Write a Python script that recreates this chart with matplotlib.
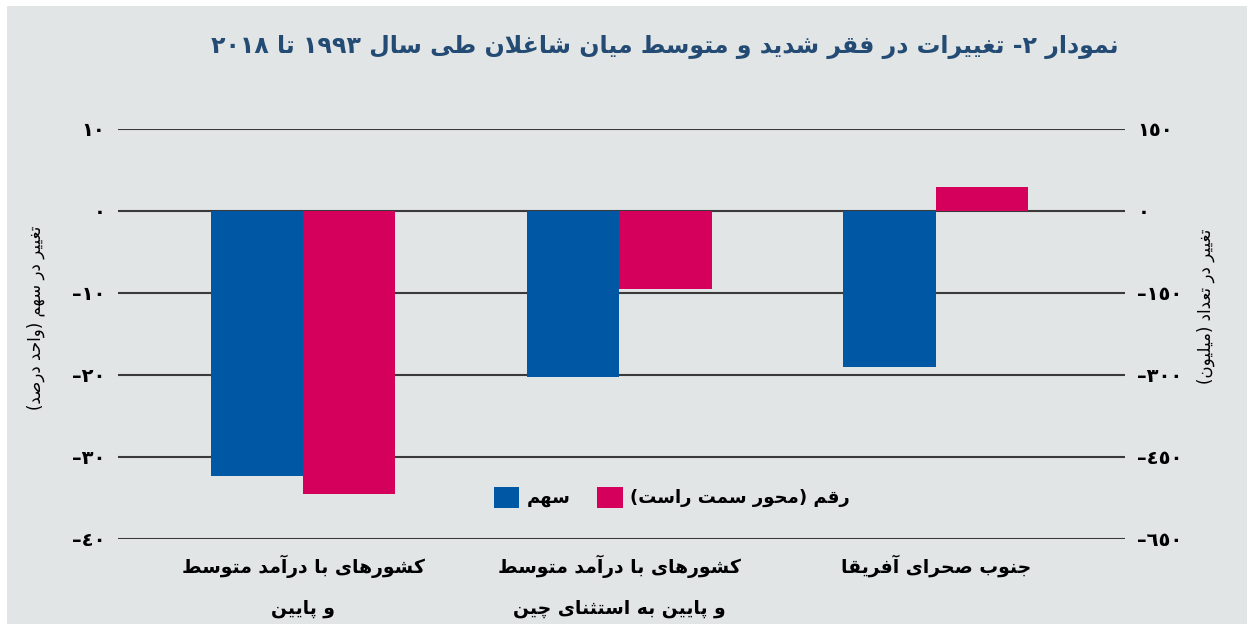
import re
import matplotlib
matplotlib.use("Agg")
import matplotlib.pyplot as plt
from matplotlib.patches import Rectangle
import numpy as np

plt.rcParams['font.family'] = ['DejaVu Sans']

# data
categories = ["کشورهای با درآمد متوسط\nو پایین",
              "کشورهای با درآمد متوسط\nو پایین به استثنای چین",
              "جنوب صحرای آفریقا"]
share = [-32.3, -20.2, -19.0]        # percentage points (left axis)
number = [-518, -143, 44]            # millions (right axis)
left_ticks = [10, 0, -10, -20, -30, -40]
left_labels = ["١٠", "٠", "–١٠", "–٢٠", "–٣٠", "–٤٠"]
right_ticks = [150, 0, -150, -300, -450, -600]
right_labels = ["١٥٠", "٠", "–١٥٠", "–٣٠٠", "–٤٥٠", "–٦٥٠"]
title = "نمودار ٢- تغییرات در فقر شدید و متوسط میان شاغلان طی سال ١٩٩٣ تا ٢٠١٨"
left_ylabel = "تغییر در سهم (واحد درصد)"
right_ylabel = "تغییر در تعداد (میلیون)"
legend_labels = ["سهم", "رقم (محور سمت راست)"]

# --- minimal arabic/persian shaping (isolated, final, initial, medial) ---
FORMS = {
    'ا': (0xFE8D, 0xFE8E), 'آ': (0xFE81, 0xFE82), 'د': (0xFEA9, 0xFEAA),
    'ذ': (0xFEAB, 0xFEAC), 'ر': (0xFEAD, 0xFEAE), 'ز': (0xFEAF, 0xFEB0),
    'ژ': (0xFB8A, 0xFB8B), 'و': (0xFEED, 0xFEEE),
    'ب': (0xFE8F, 0xFE90, 0xFE91, 0xFE92), 'پ': (0xFB56, 0xFB57, 0xFB58, 0xFB59),
    'ت': (0xFE95, 0xFE96, 0xFE97, 0xFE98), 'ث': (0xFE99, 0xFE9A, 0xFE9B, 0xFE9C),
    'ج': (0xFE9D, 0xFE9E, 0xFE9F, 0xFEA0), 'چ': (0xFB7A, 0xFB7B, 0xFB7C, 0xFB7D),
    'ح': (0xFEA1, 0xFEA2, 0xFEA3, 0xFEA4), 'خ': (0xFEA5, 0xFEA6, 0xFEA7, 0xFEA8),
    'س': (0xFEB1, 0xFEB2, 0xFEB3, 0xFEB4), 'ش': (0xFEB5, 0xFEB6, 0xFEB7, 0xFEB8),
    'ص': (0xFEB9, 0xFEBA, 0xFEBB, 0xFEBC), 'ض': (0xFEBD, 0xFEBE, 0xFEBF, 0xFEC0),
    'ط': (0xFEC1, 0xFEC2, 0xFEC3, 0xFEC4), 'ظ': (0xFEC5, 0xFEC6, 0xFEC7, 0xFEC8),
    'ع': (0xFEC9, 0xFECA, 0xFECB, 0xFECC), 'غ': (0xFECD, 0xFECE, 0xFECF, 0xFED0),
    'ف': (0xFED1, 0xFED2, 0xFED3, 0xFED4), 'ق': (0xFED5, 0xFED6, 0xFED7, 0xFED8),
    'ک': (0xFB8E, 0xFB8F, 0xFB90, 0xFB91), 'گ': (0xFB92, 0xFB93, 0xFB94, 0xFB95),
    'ل': (0xFEDD, 0xFEDE, 0xFEDF, 0xFEE0), 'م': (0xFEE1, 0xFEE2, 0xFEE3, 0xFEE4),
    'ن': (0xFEE5, 0xFEE6, 0xFEE7, 0xFEE8), 'ه': (0xFEE9, 0xFEEA, 0xFEEB, 0xFEEC),
    'ی': (0xFBFC, 0xFBFD, 0xFBFE, 0xFBFF), 'ئ': (0xFE89, 0xFE8A, 0xFE8B, 0xFE8C),
}
LAM_ALEF = {'ا': (0xFEFB, 0xFEFC), 'آ': (0xFEF5, 0xFEF6)}


def joins_next(c):
    return c in FORMS and len(FORMS[c]) == 4


def shape_line(s):
    out = []
    i = 0
    while i < len(s):
        c = s[i]
        prev = s[i - 1] if i > 0 else ''
        jp = joins_next(prev)
        if c == 'ل' and i + 1 < len(s) and s[i + 1] in LAM_ALEF:
            out.append(chr(LAM_ALEF[s[i + 1]][1 if jp else 0]))
            i += 2
            continue
        if c in FORMS:
            nxt = s[i + 1] if i + 1 < len(s) else ''
            f = FORMS[c]
            jn = len(f) == 4 and nxt in FORMS
            if jp and jn:
                g = f[3]
            elif jp:
                g = f[1]
            elif jn:
                g = f[2]
            else:
                g = f[0]
            out.append(chr(g))
        else:
            out.append(c)
        i += 1
    shaped = ''.join(out)
    # visual order: reverse everything except digit runs
    runs = re.findall(r'[0-9\u0660-\u0669]+|[^0-9\u0660-\u0669]+', shaped)
    mirror = str.maketrans('()', ')(')
    vis = []
    for r in reversed(runs):
        if re.match(r'[0-9\u0660-\u0669]', r):
            vis.append(r)
        else:
            vis.append(r[::-1].translate(mirror))
    return ''.join(vis)


def fa(s):
    return '\n'.join(shape_line(line) for line in s.split('\n'))


bg = '#e1e5e6'
blue = '#0057a3'
pink = '#d5005b'
title_col = '#234b73'

fig = plt.figure(figsize=(12.47, 6.24), dpi=100, facecolor='white')
fig.patches.append(Rectangle((7 / 1247, 0), 1, 1 - 6 / 624, transform=fig.transFigure,
                             facecolor=bg, edgecolor='none', zorder=-10))
ax = fig.add_axes([118 / 1247, 1 - 539 / 624, 1007 / 1247, 410 / 624])
ax.set_facecolor('none')
ax2 = ax.twinx()

x = np.arange(len(categories))
w = 0.292
b1 = ax.bar(x - w / 2, share, w, color=blue, zorder=3)
b2 = ax2.bar(x + w / 2, number, w, color=pink, zorder=3)

ax.set_xlim(-0.585, 2.598)
ax.set_ylim(-40, 10)
ax2.set_ylim(-600, 150)
ax.set_yticks(left_ticks, left_labels, fontsize=14, fontweight='bold')
ax2.set_yticks(right_ticks, right_labels, fontsize=14, fontweight='bold')
ax.set_axisbelow(True)
ax.yaxis.grid(True, color='#3a3a3a', linewidth=1.5)
ax.tick_params(axis='y', length=0, pad=9)
ax2.tick_params(axis='y', length=0, pad=9)
ax.set_xticks(x, [fa(c) for c in categories], fontsize=13.5, fontweight='bold',
              linespacing=2.4)
ax.tick_params(axis='x', length=0, pad=11)
for a in (ax, ax2):
    for sp in a.spines.values():
        sp.set_visible(False)

ax.set_ylabel(fa(left_ylabel), fontsize=12)
ax.yaxis.set_label_coords(-0.072, 0.54)
ax2.set_ylabel(fa(right_ylabel), fontsize=12, rotation=90)
ax2.yaxis.set_label_coords(1.071, 0.568)

leg = ax.legend([b1, b2], [fa(l) for l in legend_labels], ncol=2, frameon=False,
                loc='center', bbox_to_anchor=(0.55, 0.102),
                prop={'weight': 'bold', 'size': 13},
                handlelength=1.4, handleheight=1.4, handletextpad=0.4,
                columnspacing=1.5)

fig.text(0.533, 1 - 47 / 624, fa(title), ha='center', va='center', fontsize=17,
         fontweight='bold', color=title_col)

fig.savefig('out.png', dpi=100, facecolor=fig.get_facecolor())
